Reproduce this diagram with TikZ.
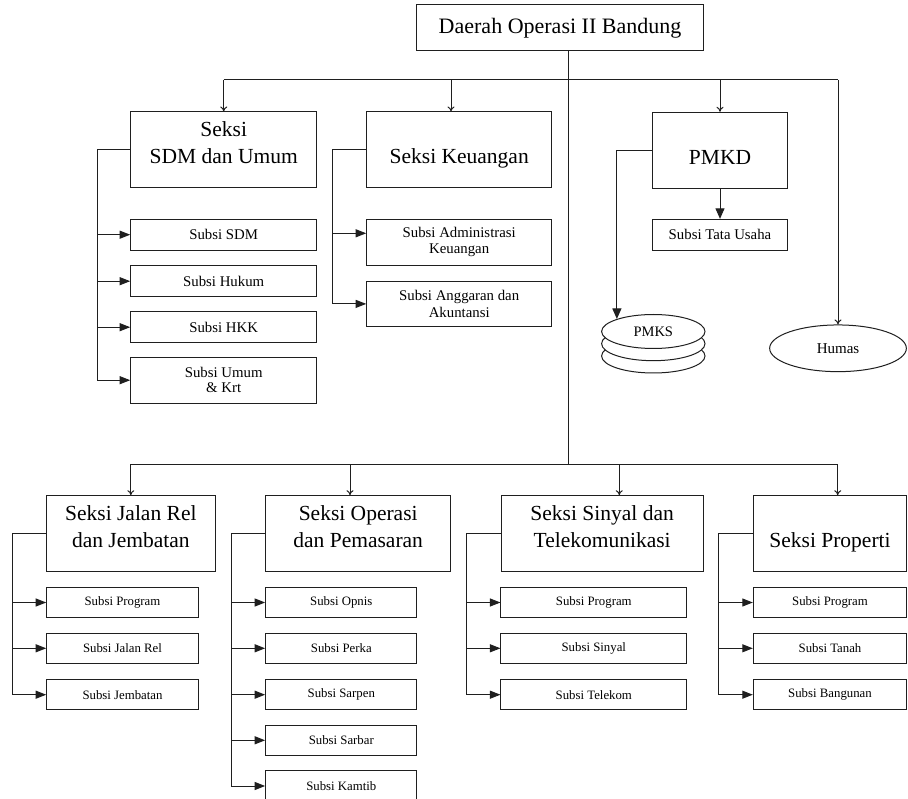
\documentclass[tikz,border=0pt]{standalone}
\usepackage{fontspec}
\setmainfont{Liberation Serif}
\usetikzlibrary{arrows.meta,shapes.geometric}
\newcommand{\tbx}[4]{\parbox[c][#2][t]{#1}{\centering\rule{0pt}{#3}#4}}
\begin{document}
\begin{tikzpicture}[x=1pt,y=-1pt,
  ln/.style={line width=1pt,draw=black!88},
  bigbox/.style={draw=black!88,line width=1pt,inner sep=0pt,font=\fontsize{21.5}{27}\selectfont},
  topbox/.style={draw=black!88,line width=1pt,inner sep=0pt,minimum width=286.6pt,minimum height=45.7pt,font=\fontsize{22}{26}\selectfont},
  subA/.style={draw=black!88,line width=1pt,inner sep=0pt,align=center,minimum height=30.7pt,font=\fontsize{14.8}{16}\selectfont},
  subB/.style={draw=black!88,line width=1pt,inner sep=0pt,align=center,minimum height=30.5pt,font=\fontsize{12.8}{15}\selectfont},
  ell/.style={ellipse,draw=black!88,line width=1pt,fill=white,inner sep=0pt},
  dn/.style={-{To[length=5pt,width=7pt]}},
  sd/.style={-{Triangle[length=10.5pt,width=8pt]}},
  bg/.style={-{Triangle[length=10.5pt,width=9pt]}}]
\fill[white] (0,0) rectangle (908,799);
\useasboundingbox (0,0) rectangle (908,799);

% top
\node[topbox] (top) at (560,27.85) {Daerah Operasi II Bandung};

% upper sections
\node[bigbox] (sdm) at (223.7,150) {\tbx{186pt}{76pt}{25pt}{Seksi\\SDM dan Umum}};
\node[bigbox] (keu) at (459.2,150) {\tbx{185pt}{76pt}{52pt}{Seksi Keuangan}};
\node[bigbox] (pmkd) at (720,150.3) {\tbx{134.6pt}{76pt}{52pt}{PMKD}};

\node[subA,minimum width=186pt] (ssdm) at (223.7,234.7) {Subsi SDM};
\node[subA,minimum width=186pt] (shuk) at (223.7,281.2) {Subsi Hukum};
\node[subA,minimum width=186pt] (shkk) at (223.7,327.2) {Subsi HKK};
\node[subA,minimum width=186pt,minimum height=45.7pt,font=\fontsize{14.8}{15}\selectfont] (sumum) at (223.7,380.2) {Subsi Umum\\\& Krt};

\node[subA,minimum width=185pt,minimum height=45.7pt,font=\fontsize{14.8}{16.5}\selectfont] (sadm) at (459.2,242.2) {Subsi Administrasi\\Keuangan};
\node[subA,minimum width=185pt,minimum height=45.7pt,font=\fontsize{14.8}{16.5}\selectfont] (sang) at (459.2,303.9) {Subsi Anggaran dan\\Akuntansi};

\node[subA,minimum width=134.6pt] (stu) at (720,234.7) {Subsi Tata Usaha};

\node[ell,minimum width=103.4pt,minimum height=34pt] (pmks3) at (653.3,356) {};
\node[ell,minimum width=103.4pt,minimum height=34pt] (pmks2) at (653.3,343.7) {};
\node[ell,minimum width=103.4pt,minimum height=34pt,font=\fontsize{14.5}{16}\selectfont] (pmks) at (653.3,331.5) {PMKS};
\node[ell,minimum width=136.7pt,minimum height=46.7pt,font=\fontsize{15}{17}\selectfont] (humas) at (838,348.3) {Humas};

% lower sections
\node[bigbox] (jr) at (130.85,533.7) {\tbx{168.3pt}{76pt}{24.5pt}{Seksi Jalan Rel\\dan Jembatan}};
\node[bigbox] (op) at (358.2,533.7) {\tbx{185pt}{76pt}{24.5pt}{Seksi Operasi\\dan Pemasaran}};
\node[bigbox] (sy) at (602.15,533.7) {\tbx{202.3pt}{76pt}{24.5pt}{Seksi Sinyal dan\\Telekomunikasi}};
\node[bigbox] (pr) at (830,533.7) {\tbx{153.4pt}{76pt}{51.5pt}{Seksi Properti}};

\node[subB,minimum width=151.6pt] (jprog) at (122.5,602.5) {Subsi Program};
\node[subB,minimum width=151.6pt] (jrel) at (122.5,648.3) {Subsi Jalan Rel};
\node[subB,minimum width=151.6pt] (jjem) at (122.5,694.7) {Subsi Jembatan};

\node[subB,minimum width=151.3pt] (oopn) at (341.3,602.5) {Subsi Opnis};
\node[subB,minimum width=151.3pt] (oper) at (341.3,648.3) {Subsi Perka};
\node[subB,minimum width=151.3pt] (osar) at (341.3,694.7) {Subsi Sarpen};
\node[subB,minimum width=151.3pt] (osbr) at (341.3,740.3) {Subsi Sarbar};
\node[subB,minimum width=151.3pt] (okam) at (341.3,786) {Subsi Kamtib};

\node[subB,minimum width=185.7pt] (yprog) at (593.8,602.5) {Subsi Program};
\node[subB,minimum width=185.7pt] (ysin) at (593.8,648.3) {Subsi Sinyal};
\node[subB,minimum width=185.7pt] (ytel) at (593.8,694.7) {Subsi Telekom};

\node[subB,minimum width=153.4pt] (pprog) at (830,602.5) {Subsi Program};
\node[subB,minimum width=153.4pt] (ptan) at (830,648.3) {Subsi Tanah};
\node[subB,minimum width=153.4pt] (pban) at (830,694.7) {Subsi Bangunan};

% bus coordinates
\coordinate (bt) at (568.3,80);
\coordinate (bb) at (568.3,464.3);
\coordinate (kx) at (451,80);
\coordinate (ox) at (350,464.3);
\coordinate (yx) at (619.3,464.3);
\coordinate (px) at (837.7,464.3);

% trunk and buses
\draw[ln] (top.south -| bt) -- (bb);
\draw[ln] (sdm.north |- bt) -- (humas.north |- bt);
\draw[ln,dn] (sdm.north |- bt) -- (sdm.north);
\draw[ln,dn] (kx) -- (kx |- keu.north);
\draw[ln,dn] (pmkd.north |- bt) -- (pmkd.north);
\draw[ln,dn] (humas.north |- bt) -- (humas.north);

\draw[ln] (jr.north |- bb) -- (px);
\draw[ln,dn] (jr.north |- bb) -- (jr.north);
\draw[ln,dn] (ox) -- (ox |- op.north);
\draw[ln,dn] (yx) -- (yx |- sy.north);
\draw[ln,dn] (px) -- (px |- pr.north);

% SDM branch
\draw[ln,sd] (sdm.west) -- ++(-32.4,0) coordinate (s1) |- (sumum.west);
\draw[ln,sd] (s1 |- ssdm.west) -- (ssdm.west);
\draw[ln,sd] (s1 |- shuk.west) -- (shuk.west);
\draw[ln,sd] (s1 |- shkk.west) -- (shkk.west);

% Keuangan branch
\coordinate (ka) at ([yshift=8.9pt]sadm.west);
\draw[ln,sd] (keu.west) -- ++(-33.4,0) coordinate (k1) |- (sang.west);
\draw[ln,sd] (ka -| k1) -- (ka);

% PMKD
\draw[ln,bg] (pmkd.south) -- (stu.north);
\draw[ln,bg] (pmkd.west) -| (pmks.161);

% lower branches
\draw[ln,sd] (jr.west) -- ++(-33.4,0) coordinate (j1) |- (jjem.west);
\draw[ln,sd] (j1 |- jprog.west) -- (jprog.west);
\draw[ln,sd] (j1 |- jrel.west) -- (jrel.west);

\draw[ln,sd] (op.west) -- ++(-33.4,0) coordinate (o1) |- (okam.west);
\draw[ln,sd] (o1 |- oopn.west) -- (oopn.west);
\draw[ln,sd] (o1 |- oper.west) -- (oper.west);
\draw[ln,sd] (o1 |- osar.west) -- (osar.west);
\draw[ln,sd] (o1 |- osbr.west) -- (osbr.west);

\draw[ln,sd] (sy.west) -- ++(-34.3,0) coordinate (y1) |- (ytel.west);
\draw[ln,sd] (y1 |- yprog.west) -- (yprog.west);
\draw[ln,sd] (y1 |- ysin.west) -- (ysin.west);

\draw[ln,sd] (pr.west) -- ++(-34,0) coordinate (p1) |- (pban.west);
\draw[ln,sd] (p1 |- pprog.west) -- (pprog.west);
\draw[ln,sd] (p1 |- ptan.west) -- (ptan.west);
\end{tikzpicture}
\end{document}
